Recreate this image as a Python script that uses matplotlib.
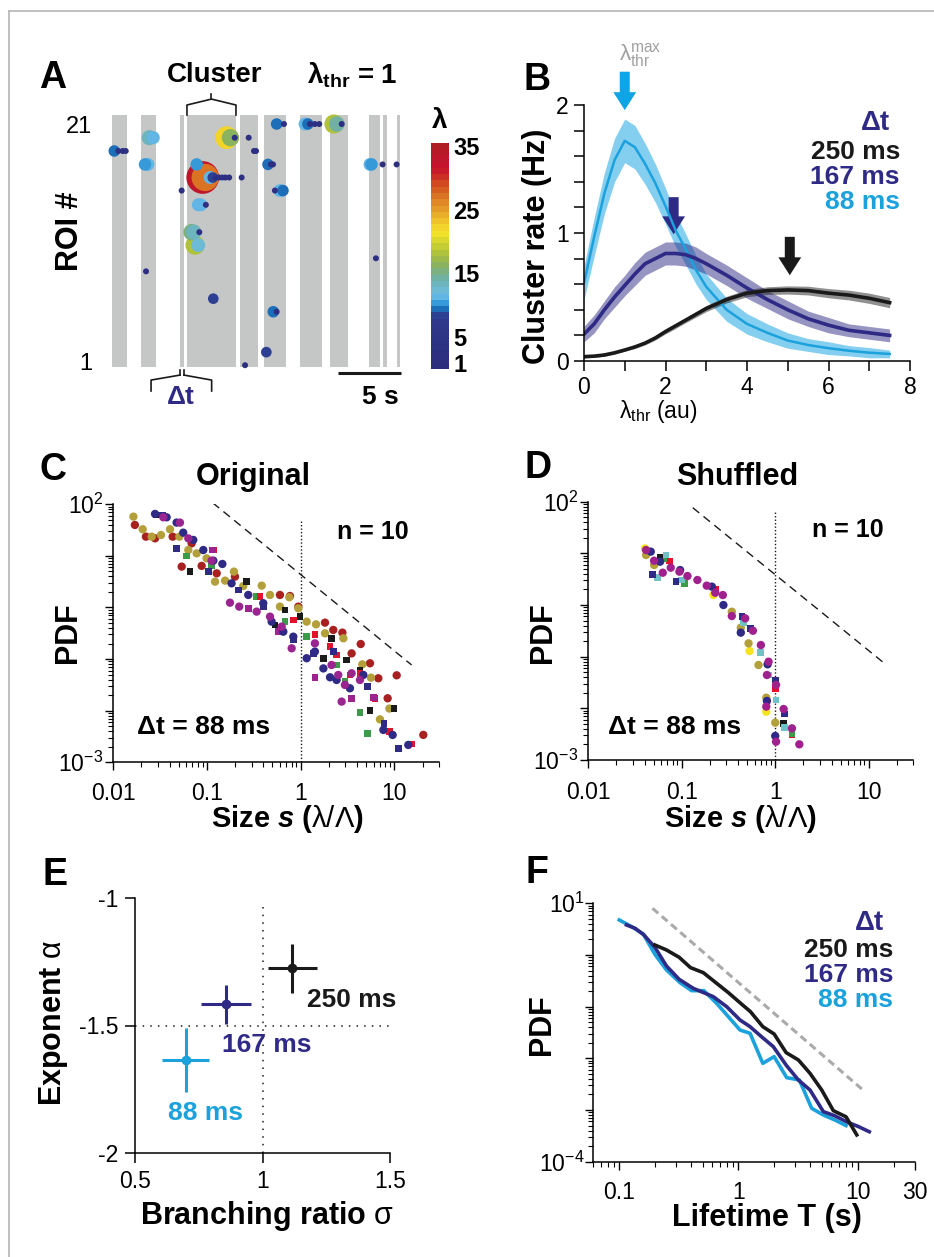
import numpy as np
import matplotlib
matplotlib.use("Agg")
import matplotlib.pyplot as plt
from matplotlib.colors import LinearSegmentedColormap, Normalize
from matplotlib.cm import ScalarMappable
from matplotlib.lines import Line2D
from matplotlib.patches import FancyArrow
from matplotlib.ticker import LogLocator, NullFormatter, MultipleLocator

plt.rcParams['font.family'] = ['Liberation Sans', 'DejaVu Sans']
plt.rcParams['mathtext.fontset'] = 'custom'
plt.rcParams['mathtext.rm'] = 'Liberation Sans'
plt.rcParams['mathtext.it'] = 'Liberation Sans:italic'
plt.rcParams['mathtext.bf'] = 'Liberation Sans:bold'
plt.rcParams['mathtext.bfit'] = 'Liberation Sans:bold:italic'
plt.rcParams['axes.linewidth'] = 1.1

# ---------------- data ----------------
# A: active periods (s) and events (time s, ROI position, lambda)
active_start = [0.0, 2.30, 5.40, 5.95, 10.16, 12.06, 14.92, 17.30, 20.40, 21.51, 22.62]
active_end = [1.19, 3.49, 5.71, 9.84, 11.59, 13.81, 16.67, 18.73, 21.27, 21.83, 22.94]

ev_t = [13.07, 13.65, 15.32, 15.55, 15.71, 16.10, 16.45, 17.62, 17.85, 18.23,
        2.96, 3.28, 9.10, 9.40, 9.74, 10.85,
        0.18, 0.50, 0.85, 1.09, 11.27, 11.43,
        2.62, 2.85, 6.72, 12.38, 12.60, 12.78, 20.48, 20.60, 21.48, 22.59,
        7.20, 7.40, 7.78, 8.00, 8.25, 8.50, 8.75, 9.00, 9.30, 10.29,
        5.53, 12.93, 13.33, 13.57,
        6.85, 7.05, 7.45,
        6.32, 6.50, 6.93,
        6.59, 6.85,
        20.95, 2.70, 8.04, 12.80, 13.07, 12.25, 10.56]
ev_roi = [21, 21, 21, 21, 21, 21, 21, 21, 21, 21,
          19.85, 19.85, 19.85, 19.85, 19.85, 19.85,
          18.73, 18.73, 18.73, 18.73, 18.73, 18.73,
          17.6, 17.6, 17.6, 17.6, 17.6, 17.6, 17.6, 17.6, 17.6, 17.6,
          16.5, 16.5, 16.5, 16.5, 16.5, 16.5, 16.5, 16.5, 16.5, 16.5,
          15.4, 15.4, 15.4, 15.4,
          14.2, 14.2, 14.2,
          11.9, 11.9, 11.9,
          10.8, 10.8,
          9.7, 8.6, 6.3, 5.2, 5.2, 1.8, 0.7]
ev_lam = [9.5, 2, 11, 9.5, 2, 2, 2, 18, 14, 2,
          13.5, 11, 22, 16, 2, 2,
          9.5, 2, 2, 2, 2, 2,
          10.5, 11, 10.5, 9.5, 2, 2, 11, 10.5, 1, 1,
          33, 27, 11, 8.5, 2, 2, 2, 2, 2, 2,
          1, 2, 11, 9.5,
          11, 11, 2,
          15, 13.5, 2,
          18, 12,
          2, 1, 8.5, 9.5, 2, 8.5, 1]

lam_ticks = [1, 5, 15, 25, 35]

# B: cluster rate vs lambda_thr
b_x = [0, 0.25, 0.5, 0.75, 1, 1.25, 1.5, 1.75, 2, 2.25, 2.5, 2.75, 3, 3.5, 4, 4.5, 5, 5.5, 6, 6.5, 7, 7.5]
b_88 = [0.61, 0.97, 1.31, 1.57, 1.72, 1.67, 1.54, 1.39, 1.21, 1.02, 0.87, 0.71, 0.58, 0.40, 0.29, 0.22,
        0.16, 0.125, 0.10, 0.08, 0.065, 0.055]
b_88_err = [0.13, 0.15, 0.16, 0.17, 0.17, 0.17, 0.16, 0.15, 0.14, 0.13, 0.12, 0.11, 0.10, 0.09, 0.08,
            0.07, 0.06, 0.05, 0.05, 0.04, 0.04, 0.03]
b_167 = [0.21, 0.29, 0.40, 0.50, 0.59, 0.68, 0.76, 0.80, 0.84, 0.84, 0.83, 0.80, 0.76, 0.67, 0.57, 0.48,
         0.40, 0.33, 0.28, 0.24, 0.22, 0.20]
b_167_err = [0.06, 0.07, 0.07, 0.08, 0.08, 0.09, 0.09, 0.09, 0.09, 0.09, 0.09, 0.09, 0.08, 0.08, 0.08,
             0.07, 0.07, 0.06, 0.06, 0.05, 0.05, 0.05]
b_250 = [0.034, 0.038, 0.047, 0.064, 0.086, 0.11, 0.14, 0.18, 0.23, 0.275, 0.32, 0.365, 0.41, 0.48, 0.53,
         0.55, 0.555, 0.55, 0.53, 0.515, 0.49, 0.456]
b_250_err = [0.01, 0.01, 0.01, 0.01, 0.01, 0.012, 0.014, 0.016, 0.018, 0.02, 0.02, 0.022, 0.024, 0.026,
             0.028, 0.03, 0.032, 0.034, 0.036, 0.038, 0.04, 0.04]
b_peak = [1.0, 2.2, 5.05]

# C: avalanche size distributions, original data
c_darkred = [(0.017, 39.8), (0.0223, 23.6), (0.0279, 21.9), (0.043, 23.6), (0.0537, 6.2), (0.0686, 17.5),
             (0.0877, 6.4), (0.127, 4.6), (0.199, 3.96), (0.601, 1.75), (0.769, 1.67), (0.944, 1.04),
             (1.82, 0.509), (2.23, 0.367), (2.79, 0.326), (3.50, 0.129), (4.38, 0.196), (5.50, 0.083),
             (6.75, 0.0425), (8.49, 0.0174), (10.6, 0.0485), (20.4, 0.0034)]
c_olive = [(0.0164, 57.7), (0.0206, 32.8), (0.0257, 23.6), (0.0323, 25.4), (0.0403, 32.8), (0.0507, 23.6),
           (0.0632, 13.0), (0.0776, 11.2), (0.0991, 8.97), (0.122, 3.17), (0.156, 3.32), (0.194, 4.96),
           (0.244, 2.61), (0.384, 2.65), (0.471, 1.75), (0.601, 1.04), (0.757, 1.58), (0.944, 0.964),
           (1.16, 0.532), (1.46, 0.472), (1.82, 0.316), (2.86, 0.253), (4.55, 0.079), (5.63, 0.0437),
           (7.03, 0.0068), (8.85, 0.011)]
c_navy_o = [(0.0279, 65.0), (0.0371, 56.0), (0.0474, 44.2), (0.0558, 28.2), (0.0714, 20.4), (0.0914, 13.0),
            (0.117, 8.09), (0.146, 6.98), (0.183, 2.94), (0.276, 1.75), (0.399, 1.21), (0.490, 0.532),
            (0.653, 0.340), (0.835, 0.272), (1.16, 0.104), (1.42, 0.140), (1.75, 0.066), (2.06, 0.0444),
            (2.42, 0.0394), (3.36, 0.0272), (4.67, 0.0493), (7.64, 0.00424), (9.60, 0.00339), (14.1, 0.00217)]
c_navy_s = [(0.0337, 62.1), (0.0474, 14.0), (0.103, 4.96), (0.216, 2.19), (0.399, 1.04), (0.835, 0.235),
            (1.36, 0.129), (2.23, 0.140), (5.15, 0.0292), (7.76, 0.0057), (11.0, 0.00187)]
c_magenta_o = [(0.0342, 56.0), (0.0515, 44.2), (0.0632, 21.9), (0.112, 8.09), (0.176, 1.24), (0.221, 1.04),
               (0.339, 0.832), (0.471, 0.665), (0.627, 0.426), (0.802, 0.162), (1.42, 0.202), (2.14, 0.0769),
               (2.52, 0.0493), (2.97, 0.0316), (3.50, 0.0531), (4.30, 0.0394), (2.74, 0.015)]
c_magenta_s = [(0.115, 13.0), (0.276, 0.964), (0.578, 0.340), (1.42, 0.0437), (3.50, 0.0174), (5.97, 0.0182)]
c_green_s = [(0.0607, 9.98), (0.112, 6.38), (0.339, 1.63), (0.681, 0.532), (1.16, 0.272), (2.42, 0.0769),
             (2.97, 0.0366), (4.30, 0.0093), (5.15, 0.00365)]
c_black_s = [(0.029, 62.1), (0.0659, 4.96), (0.265, 3.17), (0.532, 0.458), (0.681, 0.895), (0.984, 0.665),
             (1.75, 0.104), (2.14, 0.253), (3.10, 0.0962), (4.30, 0.0615), (5.50, 0.0100), (9.91, 0.0111)]
c_red_s = [(0.117, 13.0), (0.368, 1.63), (0.835, 0.573), (1.42, 0.303), (2.06, 0.175), (2.42, 0.120),
           (3.36, 0.0493), (4.30, 0.0531), (6.22, 0.0174), (8.85, 0.0039), (15.3, 0.00227)]
c_guide = [(0.115, 107.0), (15.3, 0.077)]
c_cut = [(1.0, 1e-3), (1.0, 50.0)]

# D: avalanche size distributions, shuffled data
d_magenta_o = [(0.0415, 11.6), (0.0506, 7.21), (0.0626, 4.22), (0.0762, 5.28), (0.0944, 4.42), (0.115, 3.64),
               (0.147, 3.05), (0.185, 2.37), (0.228, 1.73), (0.275, 1.56), (0.343, 0.612), (0.477, 0.552),
               (0.577, 0.318), (0.702, 0.168), (0.849, 0.080), (0.815, 0.0442), (0.802, 0.0108),
               (1.02, 0.0283), (1.02, 0.00226), (1.23, 0.0097), (1.51, 0.0041), (1.81, 0.00201)]
d_navy_o = [(0.0466, 10.8), (0.0586, 6.9), (0.096, 4.75), (0.210, 2.27), (0.279, 1.0), (0.428, 0.292),
            (0.828, 0.0711), (0.815, 0.0139), (1.0, 0.00292)]
d_navy_s = [(0.0489, 3.93), (0.0869, 2.83), (0.44, 0.594), (0.548, 0.353), (1.0, 0.0353), (1.25, 0.00776)]
d_olive_o = [(0.0415, 9.29), (0.0506, 5.94), (0.343, 0.743), (0.428, 0.364), (0.518, 0.181), (0.662, 0.069),
             (0.802, 0.0161), (1.0, 0.00528)]
d_cyan_s = [(0.0553, 3.43), (0.0679, 9.29), (0.1, 3.05), (0.458, 0.455), (0.690, 0.121), (0.849, 0.0442),
            (1.02, 0.0145), (1.25, 0.00428)]
d_yellow_o = [(0.0404, 12.5), (0.218, 1.56), (0.531, 0.129), (0.802, 0.0086)]
d_red_s = [(0.0738, 7.11), (0.228, 2.01), (1.0, 0.0244), (1.51, 0.00305)]
d_green_s = [(0.0637, 8.0), (0.106, 2.62), (1.51, 0.00318)]
d_black_s = [(0.0586, 8.38), (1.23, 0.00513)]
d_guide = [(0.131, 76.6), (14.3, 0.0776)]
d_cut = [(1.0, 1e-3), (1.0, 69.0)]

# E: exponent vs branching ratio
e_labels = ['88 ms', '167 ms', '250 ms']
e_sigma = [0.699, 0.857, 1.117]
e_sigma_err = [0.092, 0.097, 0.095]
e_alpha = [-1.635, -1.417, -1.276]
e_alpha_err = [0.126, 0.076, 0.095]

# F: lifetime distributions
f_88_t = [0.1, 0.127, 0.159, 0.199, 0.249, 0.323, 0.404, 0.513, 0.656, 0.822, 1.03, 1.25, 1.60, 1.99, 2.54,
          3.24, 4.11, 5.15, 6.45, 7.98]
f_88_p = [4.76, 3.53, 2.55, 1.03, 0.513, 0.292, 0.204, 0.204, 0.116, 0.064, 0.0353, 0.0305, 0.0080, 0.0108,
          0.00423, 0.00381, 0.00108, 0.0008, 0.00064, 0.0005]
f_167_t = [0.115, 0.136, 0.161, 0.199, 0.249, 0.318, 0.418, 0.615, 0.796, 1.03, 1.25, 1.56, 1.96, 2.51, 3.18,
           3.98, 5.15, 6.45, 8.09, 10.1, 12.5]
f_167_p = [3.81, 3.28, 2.44, 1.41, 0.612, 0.338, 0.226, 0.156, 0.1, 0.0552, 0.041, 0.0262, 0.0168, 0.0074,
           0.00381, 0.00244, 0.00093, 0.00077, 0.00059, 0.00048, 0.00038]
f_250_t = [0.199, 0.249, 0.318, 0.396, 0.507, 0.656, 0.822, 1.03, 1.26, 1.60, 1.99, 2.51, 3.18, 3.98, 4.99,
           6.25, 7.98, 9.82]
f_250_p = [1.56, 1.25, 0.902, 0.569, 0.455, 0.283, 0.187, 0.119, 0.080, 0.041, 0.0296, 0.0129, 0.0093,
           0.00513, 0.00244, 0.00097, 0.00074, 0.00033]
f_guide = [(0.19, 8.0), (11.5, 0.00226)]

# ---------------- style ----------------
LBLUE = '#1ba1dc'
NAVY = '#2e2a85'
BLACK = '#1a1a1a'
TICK = 16.5
LAB = 22

W, H = 934, 1257
fig = plt.figure(figsize=(W / 100, H / 100), dpi=100)


def box(l, t, r, b):
    return [l / W, 1 - b / H, (r - l) / W, (b - t) / H]


def ftext(x, y, s, **kw):
    kw.setdefault('ha', 'center')
    kw.setdefault('va', 'center')
    return fig.text(x / W, 1 - y / H, s, **kw)


# frame
fig.add_artist(Line2D([9 / W, 1], [1 - 11 / H, 1 - 11 / H], color='#b5b5b5', lw=1.2))
fig.add_artist(Line2D([9 / W, 9 / W], [0, 1 - 11 / H], color='#b5b5b5', lw=1.2))

# ---------------- A ----------------
anchors = [(0, '#2d2d7e'), (7.9, '#2e3a8c'), (8.5, '#2a4c9a'), (9.5, '#1282c8'), (10.5, '#4aa8e2'),
           (11.5, '#6dbde6'), (13, '#6cb6c3'), (14.5, '#72b09c'), (16, '#86b063'), (18, '#abbf3d'),
           (20, '#d3d52f'), (21.5, '#f6e32a'), (23, '#f0c82a'), (25, '#e6a12a'), (27, '#dd7b26'),
           (29, '#d4521f'), (30.5, '#cb2c22'), (32, '#c8102e'), (35.5, '#b01e24')]
LMAX = 35.5
cmap = LinearSegmentedColormap.from_list('lam', [(a / LMAX, c) for a, c in anchors], N=36)
norm = Normalize(0, LMAX)

axA = fig.add_axes(box(112, 115, 400, 367))
axA.set_xlim(0, 22.86)
axA.set_ylim(0.55, 21.76)
for s, e in zip(active_start, active_end):
    axA.axvspan(s, e, color='#c5c7c7', lw=0, zorder=0)
order = np.argsort(ev_lam)[::-1]
t = np.array(ev_t)[order]
r = np.array(ev_roi)[order]
lam = np.array(ev_lam)[order]
diam = np.maximum(6, 3 + 0.9 * lam) * 0.72
axA.scatter(t, r, s=diam ** 2, c=lam, cmap=cmap, norm=norm, edgecolors='none', zorder=3, clip_on=False)
for sp in axA.spines.values():
    sp.set_visible(False)
axA.set_xticks([])
axA.set_yticks([1, 21])
axA.set_yticklabels(['1', '21'])
axA.tick_params(axis='y', length=0, labelsize=17, pad=14)

# cluster bracket
cs, ce = active_start[3], active_end[3]
cm_ = (cs + ce) / 2
axA.plot([cs, cs, cm_, ce, ce], [21.76, 22.6, 23.1, 22.6, 21.76], color=BLACK, lw=1.2, clip_on=False)
axA.plot([cm_, cm_], [23.1, 23.5], color=BLACK, lw=1.2, clip_on=False)
# delta t bracket
ds, de = active_start[2], active_end[2]
axA.plot([ds, ds], [0.29, -0.13], color=BLACK, lw=1.2, clip_on=False)
axA.plot([de, de], [0.29, -0.13], color=BLACK, lw=1.2, clip_on=False)
axA.plot([ds, ds - 2.3, ds - 2.3], [-0.13, -0.55, -1.47], color=BLACK, lw=1.2, clip_on=False)
axA.plot([de, de + 2.2, de + 2.2], [-0.13, -0.55, -1.47], color=BLACK, lw=1.2, clip_on=False)
# scale bar 5 s
axA.plot([17.9, 22.9], [0.07, 0.07], color=BLACK, lw=2.2, clip_on=False, solid_capstyle='butt')

ftext(53, 78, 'A', fontsize=27, fontweight='bold')
ftext(215, 75, 'Cluster', fontsize=20, fontweight='bold')
ftext(352, 75, 'λ$_{\\mathbf{thr}}$ = 1', fontsize=20, fontweight='bold')
ftext(70, 231, 'ROI #', fontsize=LAB, fontweight='bold', rotation=90)
ftext(181, 397, 'Δt', fontsize=19, fontweight='bold', color=NAVY)
ftext(380, 397, '5 s', fontsize=19, fontweight='bold')

cax = fig.add_axes(box(431, 142.7, 449, 369))
cb = fig.colorbar(ScalarMappable(norm=norm, cmap=cmap), cax=cax, ticks=lam_ticks)
cb.outline.set_visible(False)
cax.tick_params(length=0, labelsize=17, pad=3)
for lb in cax.get_yticklabels():
    lb.set_fontweight('bold')
ftext(440, 121, 'λ', fontsize=20, fontweight='bold')

# ---------------- B ----------------
axB = fig.add_axes(box(584, 105, 910, 361))
bx = np.array(b_x)
for y, err, col, a in [(b_88, b_88_err, '#33aee6', 0.6), (b_167, b_167_err, NAVY, 0.5),
                       (b_250, b_250_err, '#222222', 0.5)]:
    y = np.array(y)
    err = np.array(err)
    axB.fill_between(bx, y - err, y + err, color=col, alpha=a, lw=0)
axB.plot(bx, b_88, color=LBLUE, lw=1.8)
axB.plot(bx, b_167, color=NAVY, lw=2.6)
axB.plot(bx, b_250, color=BLACK, lw=2.6)
axB.set_xlim(0, 8)
axB.set_ylim(0, 2)
axB.spines['top'].set_visible(False)
axB.spines['right'].set_visible(False)
axB.xaxis.set_major_locator(MultipleLocator(2))
axB.xaxis.set_minor_locator(MultipleLocator(1))
axB.yaxis.set_major_locator(MultipleLocator(1))
axB.yaxis.set_minor_locator(MultipleLocator(0.2))
axB.tick_params(which='both', direction='out', length=7, width=1.1, labelsize=TICK, pad=4)
arrow_tail = [(2.26, -0.30), (1.28, -0.29), (0.97, -0.30)]
for xp, (y0, dy), col in zip(b_peak, arrow_tail, ['#0ea5e6', NAVY, BLACK]):
    axB.add_patch(FancyArrow(xp, y0, 0, dy, width=0.245, head_width=0.56, head_length=0.14,
                             length_includes_head=True, color=col, lw=0, clip_on=False))
ftext(537, 80, 'B', fontsize=27, fontweight='bold')
ftext(640, 55, r'$\mathrm{\lambda}_{\mathrm{thr}}^{\mathrm{max}}$', fontsize=16, color='#a0a0a0')
ftext(537, 246, 'Cluster rate (Hz)', fontsize=LAB, fontweight='bold', rotation=90)
ftext(658, 412, r'$\mathrm{\lambda}_{\mathrm{thr}}$ (au)', fontsize=16.5)
ftext(890, 123, 'Δt', fontsize=20, fontweight='bold', color=NAVY, ha='right')
ftext(900, 152, '250 ms', fontsize=19, fontweight='bold', color=BLACK, ha='right')
ftext(900, 177, '167 ms', fontsize=19, fontweight='bold', color=NAVY, ha='right')
ftext(900, 202, '88 ms', fontsize=19, fontweight='bold', color=LBLUE, ha='right')


# ---------------- C / D ----------------
def log_axes(ax, xlim, ylim, xt, xtl, yt, ytl, xpad, ypad):
    ax.set_xscale('log')
    ax.set_yscale('log')
    ax.set_xlim(*xlim)
    ax.set_ylim(*ylim)
    ax.spines['top'].set_visible(False)
    ax.spines['right'].set_visible(False)
    ax.set_xticks(xt)
    ax.set_xticklabels(xtl)
    ax.set_yticks(yt)
    ax.set_yticklabels(ytl)
    for axis in (ax.xaxis, ax.yaxis):
        axis.set_minor_locator(LogLocator(base=10, subs=np.arange(2, 10), numticks=30))
        axis.set_minor_formatter(NullFormatter())
    ax.tick_params(which='major', direction='out', length=6, width=1.0, labelsize=TICK)
    ax.tick_params(which='minor', direction='out', length=3.5, width=0.8)
    ax.tick_params(axis='x', pad=xpad)
    ax.tick_params(axis='y', pad=ypad)


def scat(ax, pts, col, marker):
    x, y = zip(*pts)
    ax.scatter(x, y, s=36 if marker == 'o' else 24, c=col, marker=marker, edgecolors='none',
               zorder=3, clip_on=False)


dec_y = [1e-3, 1e-2, 1e-1, 1, 10, 100]
dec_yl = ['$10^{-3}$', '', '', '', '', '$10^{2}$']
size_xt = [0.01, 0.1, 1, 10]
size_xtl = ['0.01', '0.1', '1', '10']
size_lab = r'Size $\mathbfit{s}$ ($\mathrm{\lambda/\Lambda}$)'

axC = fig.add_axes(box(113.3, 504.3, 439, 762.3))
log_axes(axC, (0.01, 30), (1e-3, 1e2), size_xt, size_xtl, dec_y, dec_yl, 8, 1)
for pts, col, m in [(c_darkred, '#a8201f', 'o'), (c_olive, '#b3a03a', 'o'), (c_green_s, '#3c9a48', 's'),
                    (c_black_s, BLACK, 's'), (c_red_s, '#e0142a', 's'), (c_magenta_s, '#9b2590', 's'),
                    (c_navy_s, NAVY, 's'), (c_navy_o, NAVY, 'o'), (c_magenta_o, '#9b2590', 'o')]:
    scat(axC, pts, col, m)
gx, gy = zip(*c_guide)
axC.plot(gx, gy, color=BLACK, lw=1.0, ls=(0, (6, 4)))
vx, vy = zip(*c_cut)
axC.plot(vx, vy, color=BLACK, lw=1.0, ls=(0, (1, 1.5)))

ftext(53, 470, 'C', fontsize=27, fontweight='bold')
ftext(253, 477, 'Original', fontsize=22, fontweight='bold')
ftext(373, 532, 'n = 10', fontsize=18, fontweight='bold')
ftext(204, 727, 'Δt = 88 ms', fontsize=19, fontweight='bold')
ftext(68, 633, 'PDF', fontsize=LAB, fontweight='bold', rotation=90)
ftext(287, 819, size_lab, fontsize=21, fontweight='bold')

axD = fig.add_axes(box(588.3, 501.7, 913.3, 760))
log_axes(axD, (0.01, 30), (1e-3, 1e2), size_xt, size_xtl, dec_y, dec_yl, 9, 1)
for pts, col, m in [(d_yellow_o, '#f5e31e', 'o'), (d_red_s, '#e0142a', 's'), (d_green_s, '#3c9a48', 's'),
                    (d_black_s, BLACK, 's'), (d_olive_o, '#b3a03a', 'o'), (d_cyan_s, '#6fc3c6', 's'),
                    (d_navy_s, NAVY, 's'), (d_navy_o, NAVY, 'o'), (d_magenta_o, '#a0208e', 'o')]:
    scat(axD, pts, col, m)
gx, gy = zip(*d_guide)
axD.plot(gx, gy, color=BLACK, lw=1.0, ls=(0, (6, 4)))
vx, vy = zip(*d_cut)
axD.plot(vx, vy, color=BLACK, lw=1.0, ls=(0, (1, 1.5)))

ftext(538, 468, 'D', fontsize=27, fontweight='bold')
ftext(737, 477, 'Shuffled', fontsize=22, fontweight='bold')
ftext(848, 530, 'n = 10', fontsize=18, fontweight='bold')
ftext(675, 727, 'Δt = 88 ms', fontsize=19, fontweight='bold')
ftext(543, 633, 'PDF', fontsize=LAB, fontweight='bold', rotation=90)
ftext(740, 819, size_lab, fontsize=21, fontweight='bold')

# ---------------- E ----------------
axE = fig.add_axes(box(135, 897.7, 390, 1153.3))
axE.plot([1, 1], [-2, -1.02], color=BLACK, lw=1.1, ls=(0, (1, 4)))
axE.plot([0.5, 1.5], [-1.5, -1.5], color=BLACK, lw=1.1, ls=(0, (1, 4)))
e_cols = [LBLUE, NAVY, BLACK]
for i in range(3):
    axE.errorbar(e_sigma[i], e_alpha[i], xerr=e_sigma_err[i], yerr=e_alpha_err[i], fmt='o', ms=6,
                 color=e_cols[i], lw=2.2, capsize=0)
axE.set_xlim(0.5, 1.5)
axE.set_ylim(-2, -1)
axE.spines['top'].set_visible(False)
axE.spines['right'].set_visible(False)
axE.set_xticks([0.5, 1, 1.5])
axE.set_xticklabels(['0.5', '1', '1.5'])
axE.set_yticks([-2, -1.5, -1])
axE.set_yticklabels(['-2', '-1.5', '-1'])
axE.tick_params(direction='out', length=7, width=1.1, labelsize=TICK, pad=5)
ftext(55, 875, 'E', fontsize=27, fontweight='bold')
ftext(53, 1023, r'Exponent $\mathrm{\alpha}$', fontsize=LAB, fontweight='bold', rotation=90)
ftext(267, 1216, r'Branching ratio $\mathrm{\sigma}$', fontsize=LAB, fontweight='bold')
ftext(306.7, 1000, e_labels[2], fontsize=19, fontweight='bold', color=BLACK, ha='left')
ftext(221.7, 1045, e_labels[1], fontsize=19, fontweight='bold', color=NAVY, ha='left')
ftext(168.3, 1113, e_labels[0], fontsize=19, fontweight='bold', color=LBLUE, ha='left')

# ---------------- F ----------------
axF = fig.add_axes(box(592.8, 903.3, 914.6, 1161.7))
log_axes(axF, (0.06, 30), (1e-4, 10), [0.1, 1, 10, 30], ['0.1', '1', '10', '30'],
         [1e-4, 1e-3, 1e-2, 1e-1, 1, 10], ['$10^{-4}$', '', '', '', '', '$10^{1}$'], 8, 0)
gx, gy = zip(*f_guide)
axF.plot(gx, gy, color='#aaaaaa', lw=2.2, ls=(0, (2.5, 1.5)))
axF.plot(f_88_t, f_88_p, color=LBLUE, lw=2.6)
axF.plot(f_167_t, f_167_p, color=NAVY, lw=2.6)
axF.plot(f_250_t, f_250_p, color=BLACK, lw=2.6)
ftext(537, 873, 'F', fontsize=27, fontweight='bold')
ftext(542, 1025, 'PDF', fontsize=LAB, fontweight='bold', rotation=90)
ftext(767, 1218, 'Lifetime T (s)', fontsize=LAB, fontweight='bold')
ftext(884, 923, 'Δt', fontsize=20, fontweight='bold', color=NAVY, ha='right')
ftext(893, 950, '250 ms', fontsize=19, fontweight='bold', color=BLACK, ha='right')
ftext(893, 975, '167 ms', fontsize=19, fontweight='bold', color=NAVY, ha='right')
ftext(893, 1000, '88 ms', fontsize=19, fontweight='bold', color=LBLUE, ha='right')

fig.savefig('out.png', dpi=100)
